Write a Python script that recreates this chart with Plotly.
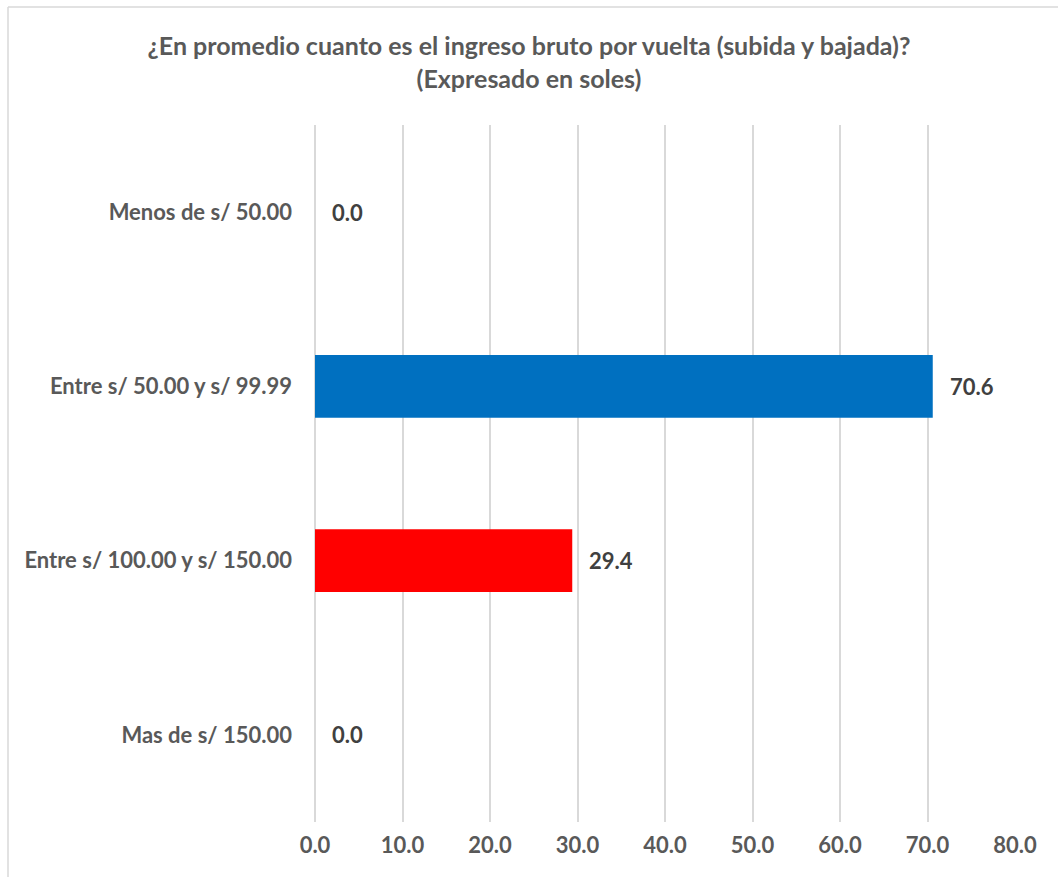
import plotly.graph_objects as go

categories = ["Menos de s/ 50.00", "Entre s/ 50.00 y s/ 99.99", "Entre s/ 100.00 y s/ 150.00", "Mas de s/ 150.00"]
values = [0.0, 70.6, 29.4, 0.0]
colors = ["#0070C0", "#0070C0", "#FF0000", "#0070C0"]
tick_vals = [0, 10, 20, 30, 40, 50, 60, 70, 80]
tick_text = ["0.0", "10.0", "20.0", "30.0", "40.0", "50.0", "60.0", "70.0", "80.0"]
title_text = "¿En promedio cuanto es el ingreso bruto por vuelta (subida y bajada)?<br>(Expresado en soles)"

W, H = 1058, 877
L, R, T, B = 315, 43, 125, 55

fig = go.Figure()
fig.add_trace(go.Bar(
    x=values, y=categories, orientation="h",
    marker=dict(color=colors, line=dict(width=0)),
    width=0.36, hoverinfo="skip",
))

for c, v in zip(categories, values):
    fig.add_annotation(
        x=v, y=c, xref="x", yref="y", text=f"<b>{v:.1f}</b>",
        showarrow=False, xanchor="left", xshift=15,
        font=dict(family="Lato", size=22, color="#404040"),
    )

pw, ph = W - L - R, H - T - B
# chart border (left and top visible)
x_left = (8 - L) / pw
y_top = (H - B - 7) / ph
fig.add_shape(type="line", xref="paper", yref="paper", x0=x_left, x1=x_left, y0=-0.2, y1=y_top,
              line=dict(color="#D9D9D9", width=1.5))
fig.add_shape(type="line", xref="paper", yref="paper", x0=x_left, x1=1.2, y0=y_top, y1=y_top,
              line=dict(color="#D9D9D9", width=1.5))

fig.update_layout(
    width=W, height=H,
    margin=dict(l=L, r=R, t=T, b=B, pad=0),
    paper_bgcolor="white", plot_bgcolor="white",
    showlegend=False,
    title=dict(text=f"<b>{title_text}</b>", x=0.5, xanchor="center", xref="container",
               y=1 - 55 / H, yanchor="middle", yref="container",
               font=dict(family="Lato", size=25, color="#595959")),
    font=dict(family="Lato", color="#595959"),
)
fig.update_xaxes(
    range=[0, 80], tickvals=tick_vals, ticktext=[f"<b>{t}</b>" for t in tick_text],
    showgrid=True, gridcolor="#D9D9D9", gridwidth=1.5,
    zeroline=True, zerolinecolor="#D9D9D9", zerolinewidth=1.5,
    showline=False, ticks="", ticklabelstandoff=8,
    tickfont=dict(family="Lato", size=22, color="#595959"),
    fixedrange=True,
)
fig.update_yaxes(
    categoryorder="array", categoryarray=categories, autorange="reversed",
    ticktext=[f"<b>{c}</b>" for c in categories], tickvals=categories,
    showgrid=False, zeroline=False, showline=False, ticks="",
    ticklabelstandoff=22,
    tickfont=dict(family="Lato", size=22, color="#595959"),
    fixedrange=True,
)

fig.write_html("out.html")
